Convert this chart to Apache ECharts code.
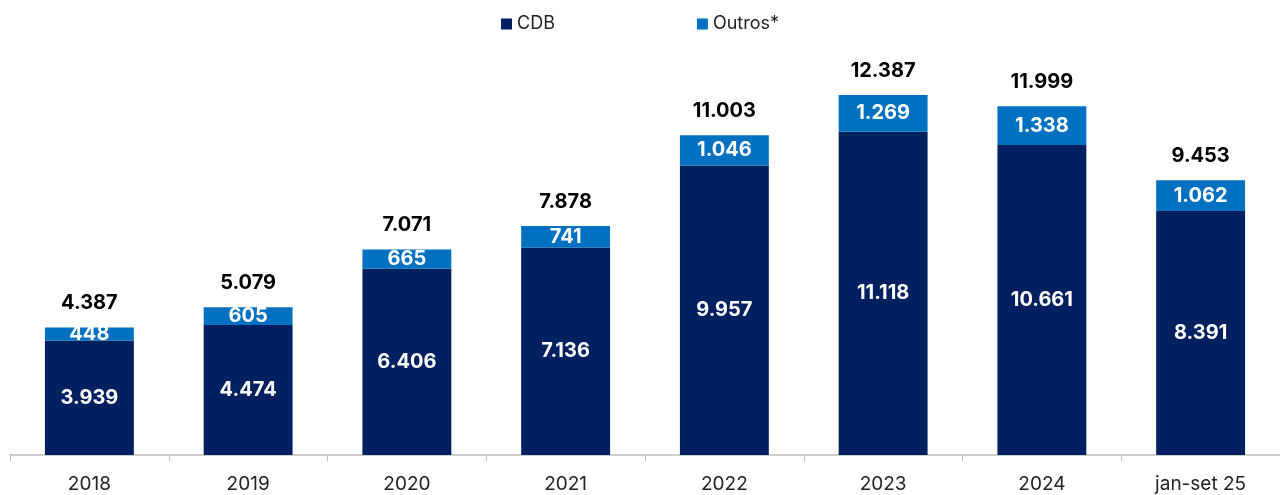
<!DOCTYPE html>
<html><head><meta charset="utf-8">
<script src="https://cdn.jsdelivr.net/npm/echarts@6/dist/echarts.min.js"></script>
<style>html,body{margin:0;padding:0;background:#fff}#c{width:1280px;height:495px}</style>
</head><body><div id="c"></div>
<script>
const categories = ['2018','2019','2020','2021','2022','2023','2024','jan-set 25'];
const cdb = [3939, 4474, 6406, 7136, 9957, 11118, 10661, 8391];
const outros = [448, 605, 665, 741, 1046, 1269, 1338, 1062];
const totals = [4387, 5079, 7071, 7878, 11003, 12387, 11999, 9453];
const fmt = v => v.toString().replace(/\B(?=(\d{3})+(?!\d))/g, '.');
const FONT = 'Inter';
const chart = echarts.init(document.getElementById('c'));
chart.setOption({
  animation:false,
  textStyle:{fontFamily:FONT},
  legend:{top:10,left:'center',itemWidth:11,itemHeight:11,itemGap:142,icon:'rect',
    textStyle:{fontSize:18,color:'#222',fontFamily:FONT},data:['CDB','Outros*']},
  grid:{left:10,right:0,top:48,bottom:40,containLabel:false},
  xAxis:{type:'category',data:categories,
    axisLine:{lineStyle:{color:'#bfbfbf',width:1.5}},
    axisTick:{show:true,length:6,lineStyle:{color:'#bfbfbf'}},
    axisLabel:{fontSize:19,color:'#222',margin:20,fontFamily:FONT}},
  yAxis:{type:'value',min:0,max:14000,show:false,splitLine:{show:false}},
  series:[
    {name:'CDB',type:'bar',stack:'a',data:cdb,barWidth:'56%',itemStyle:{color:'#002060'},
     label:{show:true,position:'inside',color:'#fff',fontWeight:'bold',fontSize:20,fontFamily:FONT,formatter:p=>fmt(p.value)}},
    {name:'Outros*',type:'bar',stack:'a',data:outros,itemStyle:{color:'#0070C0'},
     label:{show:true,position:'inside',color:'#fff',fontWeight:'bold',fontSize:20,fontFamily:FONT,formatter:p=>fmt(p.value)}},
    {name:'total',type:'bar',stack:'a',data:totals.map(()=>0),itemStyle:{color:'transparent'},
     label:{show:true,position:'top',distance:14,color:'#000',fontWeight:'bold',fontSize:20,fontFamily:FONT,formatter:p=>fmt(totals[p.dataIndex])}}
  ]
});
</script></body></html>
